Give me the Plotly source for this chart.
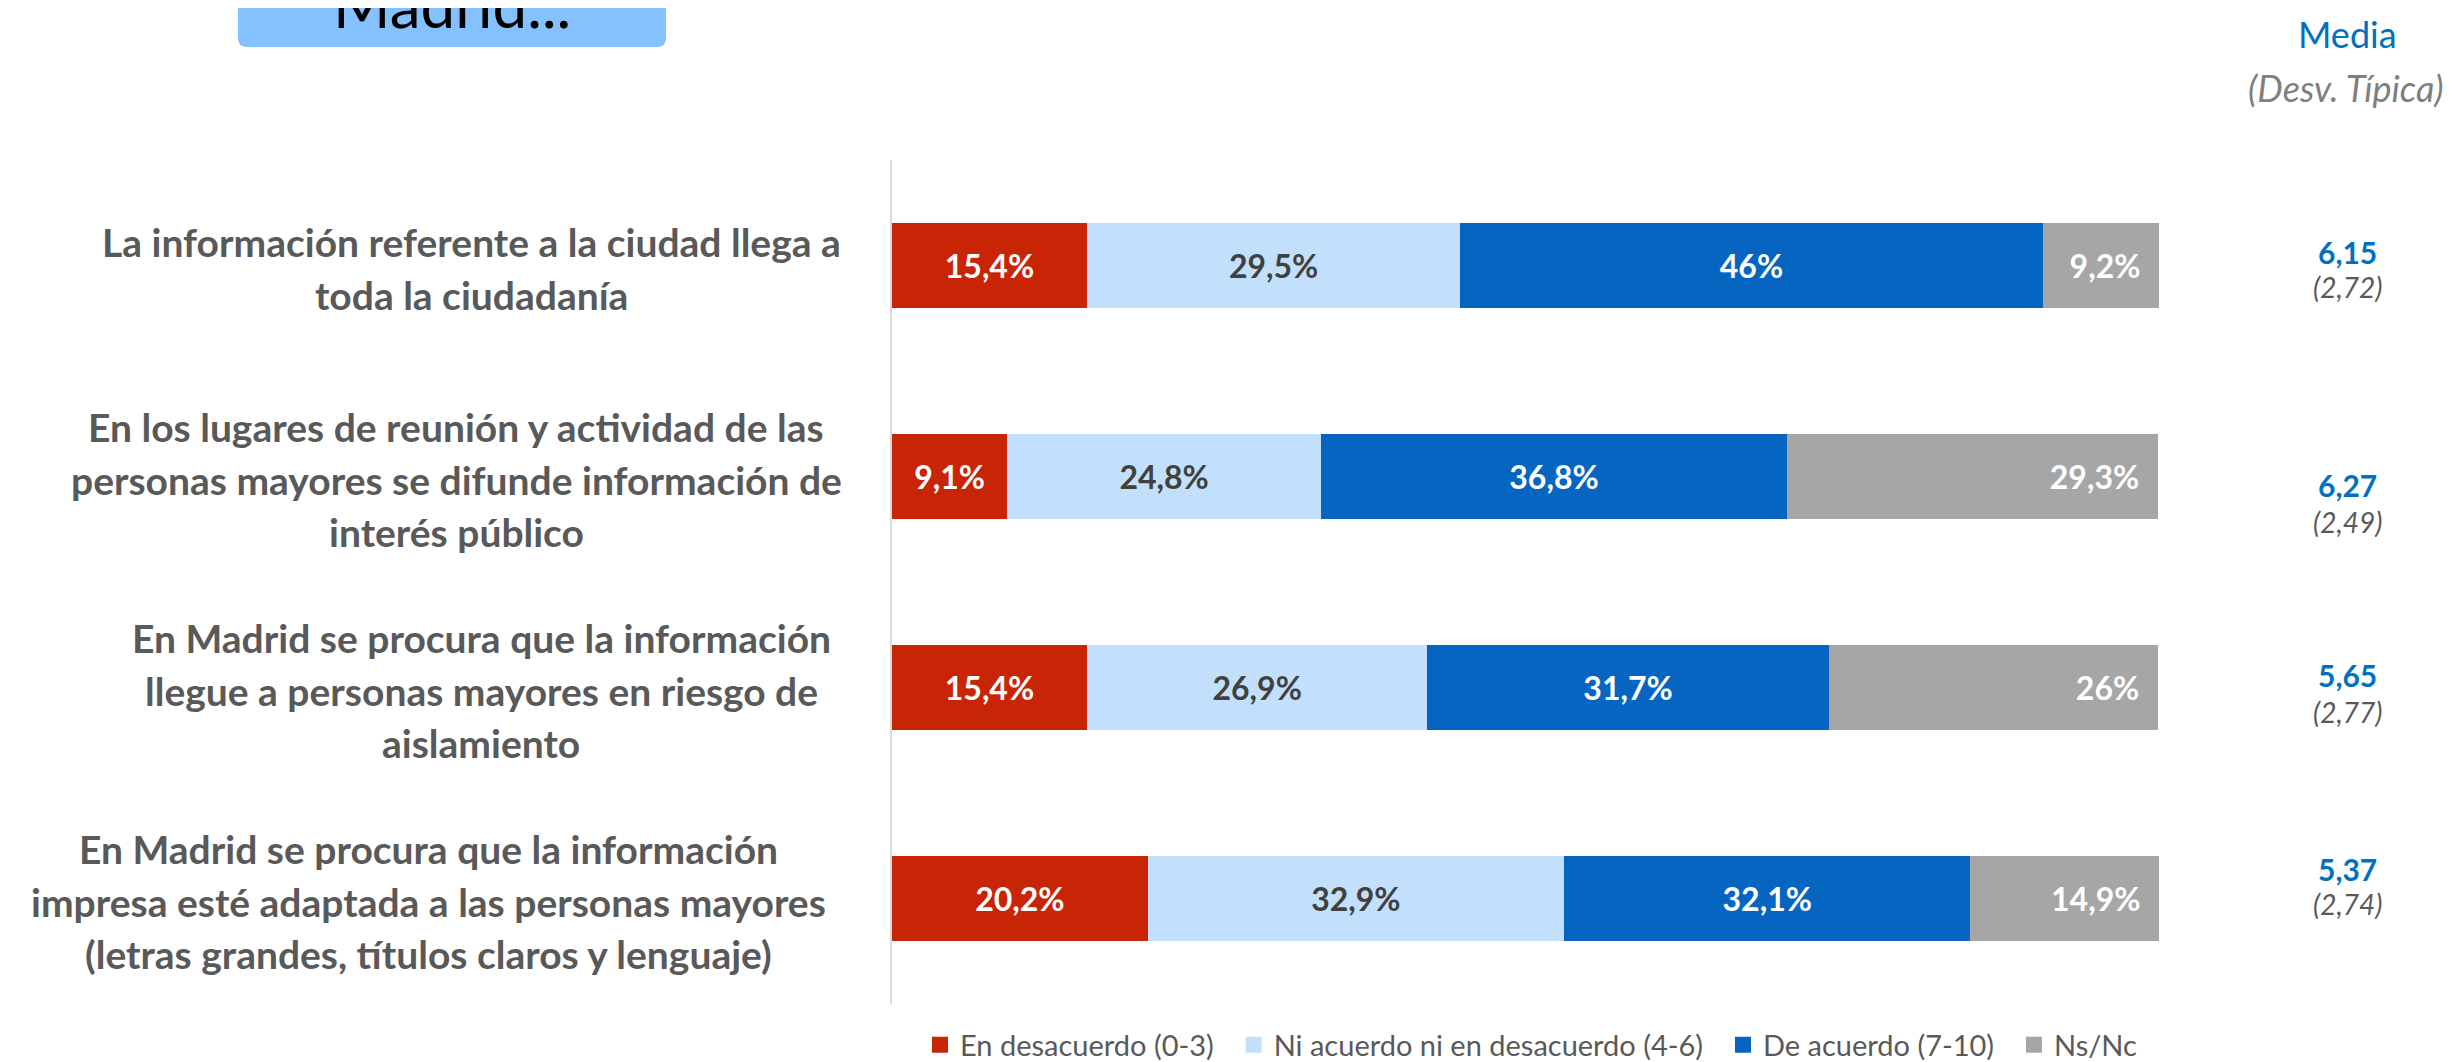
import plotly.graph_objects as go

# ---------------- data ----------------
categories = [
    "La información referente a la ciudad llega a toda la ciudadanía",
    "En los lugares de reunión y actividad de las personas mayores se difunde información de interés público",
    "En Madrid se procura que la información llegue a personas mayores en riesgo de aislamiento",
    "En Madrid se procura que la información impresa esté adaptada a las personas mayores (letras grandes, títulos claros y lenguaje)",
]
category_lines = [
    ["La información referente a la ciudad llega a", "toda la ciudadanía"],
    ["En los lugares de reunión y actividad de las", "personas mayores se difunde información de", "interés público"],
    ["En Madrid se procura que la información", "llegue a personas mayores en riesgo de", "aislamiento"],
    ["En Madrid se procura que la información", "impresa esté adaptada a las personas mayores", "(letras grandes, títulos claros y lenguaje)"],
]
series_names = ["En desacuerdo (0-3)", "Ni acuerdo ni en desacuerdo (4-6)", "De acuerdo (7-10)", "Ns/Nc"]
desacuerdo = [15.4, 9.1, 15.4, 20.2]
ni_acuerdo = [29.5, 24.8, 26.9, 32.9]
de_acuerdo = [46, 36.8, 31.7, 32.1]
ns_nc = [9.2, 29.3, 26, 14.9]
media = [6.15, 6.27, 5.65, 5.37]
desv_tipica = [2.72, 2.49, 2.77, 2.74]

# ---------------- layout geometry (page pixels) ----------------
W, H = 2459, 1062
OFF = 8                      # default body margin of the html page
FW, FH = W - OFF, H - OFF    # figure size so that it ends at the window edge
PL, PR, PT, PB = 892, 2159, 160, 1004   # plot area in page pixels
ML, MT = PL - OFF, PT - OFF
MR, MB = FW - (PR - OFF), FH - (PB - OFF)
PW, PH = PR - PL, PB - PT

colors = ["#C82506", "#C2E0FB", "#0665C1", "#A6A6A6"]
text_colors = ["#FFFFFF", "#404040", "#FFFFFF", "#FFFFFF"]
text_pos = ["middle", "middle", "middle", "end"]
text_pad = ["", "", "", "\u00a0\u00a0"]
FONT = "Lato"
LEGEND_PAD = "\u00a0\u00a0"


def px_x(px):
    return (px - PL) / PW


def px_y(py):
    return 1 - (py - PT) / PH


def fmt_pct(v):
    return f"{v:g}".replace(".", ",") + "%"


fig = go.Figure()
all_series = [desacuerdo, ni_acuerdo, de_acuerdo, ns_nc]
for k, (name, vals, col, tcol, tpos, pad) in enumerate(
        zip(series_names, all_series, colors, text_colors, text_pos, text_pad)):
    fig.add_trace(go.Bar(
        y=categories, x=vals, orientation="h", name=name,
        marker=dict(color=col, line=dict(width=0)),
        text=[fmt_pct(v) + pad for v in vals], textposition="inside",
        insidetextanchor=tpos, constraintext="none",
        textfont=dict(family=FONT, size=32, color=tcol, weight="bold"),
        showlegend=False, hoverinfo="skip", cliponaxis=False,
    ))
    fig.add_trace(go.Scatter(
        x=[None], y=[None], mode="markers",
        name=name + (LEGEND_PAD if k < len(series_names) - 1 else ""),
        marker=dict(symbol="square", size=18, color=col), showlegend=True,
    ))

annotations = []
label_centers_px = [471, 456, 481, 428]
LINE_H = 52.5
for cat, lines, cx in zip(categories, category_lines, label_centers_px):
    n = len(lines)
    for i, ln in enumerate(lines):
        annotations.append(dict(
            x=px_x(cx), xref="paper", y=cat, yref="y",
            yshift=-((i - (n - 1) / 2) * LINE_H) - 3,
            text=f"<b>{ln}</b>", showarrow=False, xanchor="center", yanchor="middle",
            font=dict(family=FONT, size=39, color="#595959"),
        ))

mean_shift = [14, -8, 13, 30]
sd_shift = [-21, -45, -24, -5]
MX = px_x(2347)
for cat, m, s, ms, ss in zip(categories, media, desv_tipica, mean_shift, sd_shift):
    annotations.append(dict(
        x=MX, xref="paper", y=cat, yref="y", yshift=ms,
        text="<b>" + f"{m:.2f}".replace(".", ",") + "</b>", showarrow=False,
        xanchor="center", yanchor="middle",
        font=dict(family=FONT, size=30, color="#0070C0"),
    ))
    annotations.append(dict(
        x=MX, xref="paper", y=cat, yref="y", yshift=ss,
        text="<i>(" + f"{s:.2f}".replace(".", ",") + ")</i>", showarrow=False,
        xanchor="center", yanchor="middle",
        font=dict(family=FONT, size=28, color="#595959"),
    ))

annotations.append(dict(
    x=px_x(2347), xref="paper", y=px_y(34), yref="paper", text="Media",
    showarrow=False, xanchor="center", yanchor="middle",
    font=dict(family=FONT, size=36, color="#0070C0"),
))
annotations.append(dict(
    x=px_x(2346), xref="paper", y=px_y(88), yref="paper", text="<i>(Desv. Típica)</i>",
    showarrow=False, xanchor="center", yanchor="middle",
    font=dict(family=FONT, size=36, color="#7F7F7F"),
))
annotations.append(dict(
    x=px_x(452), xref="paper", y=px_y(4), yref="paper", text="Madrid...",
    showarrow=False, xanchor="center", yanchor="middle",
    font=dict(family=FONT, size=62, color="#000000"),
))

x0, x1 = px_x(238), px_x(666)
yb, yt = px_y(47), px_y(-20)
r = 9
dx, dy = r / PW, r / PH
box_path = (f"M {x0},{yt} L {x1},{yt} L {x1},{yb + dy} Q {x1},{yb} {x1 - dx},{yb} "
            f"L {x0 + dx},{yb} Q {x0},{yb} {x0},{yb + dy} Z")

fig.update_layout(
    width=FW, height=FH,
    margin=dict(l=ML, r=MR, t=MT, b=MB, autoexpand=False),
    paper_bgcolor="white", plot_bgcolor="white",
    barmode="stack", bargap=0.6,
    font=dict(family=FONT, color="#595959"),
    xaxis=dict(range=[0, 100.1001], visible=False, fixedrange=True),
    yaxis=dict(range=[3.5, -0.5], showticklabels=False, ticks="", showgrid=False,
               showline=True, linecolor="#D9D9D9", linewidth=2, zeroline=False),
    legend=dict(orientation="h", xref="container", yref="container", traceorder="normal",
                x=(920 - OFF) / FW, y=(H - 1045) / FH, xanchor="left", yanchor="middle",
                font=dict(family=FONT, size=29, color="#595959"),
                itemwidth=30, tracegroupgap=0, bgcolor="rgba(0,0,0,0)"),
    shapes=[dict(type="path", path=box_path, xref="paper", yref="paper",
                 fillcolor="#85C1FF", line=dict(width=0), layer="below")],
    annotations=annotations,
)

fig.write_html("out.html")
